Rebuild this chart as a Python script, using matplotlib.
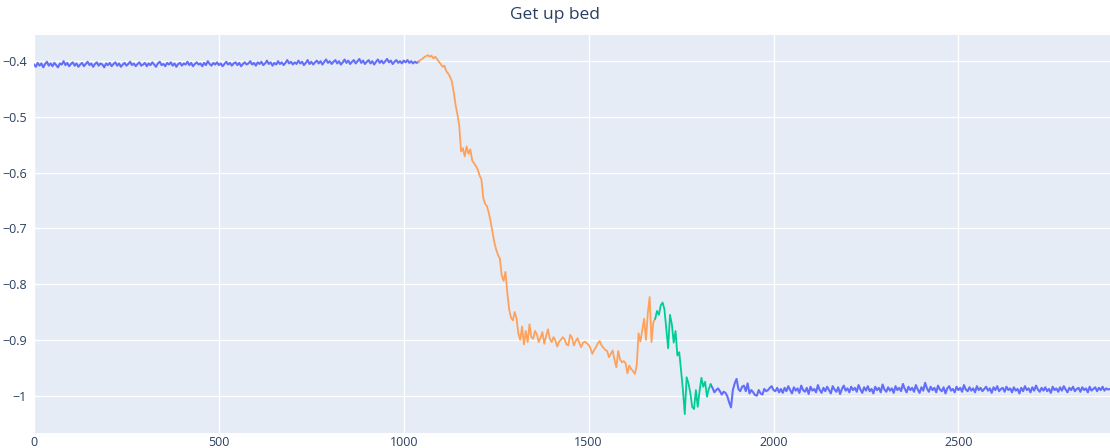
import numpy as np
import matplotlib.pyplot as plt
from matplotlib.ticker import FuncFormatter, MultipleLocator

plt.rcParams['font.family'] = ['Open Sans', 'DejaVu Sans']

title = "Get up bed"

# still lying, sampled every 5 frames from 0
lying_start = 0
lying_step = 5
lying = [
    -0.406, -0.410, -0.403, -0.408, -0.404, -0.411, -0.405, -0.401, -0.408, -0.404, -0.409, -0.403, -0.407, -0.411, -0.404, -0.406, -0.400, -0.407, -0.403, -0.409,
    -0.405, -0.402, -0.408, -0.404, -0.410, -0.406, -0.403, -0.409, -0.405, -0.401, -0.407, -0.404, -0.410, -0.405, -0.402, -0.408, -0.404, -0.406, -0.411, -0.404,
    -0.407, -0.403, -0.409, -0.405, -0.402, -0.408, -0.404, -0.410, -0.406, -0.403, -0.408, -0.405, -0.401, -0.407, -0.404, -0.409, -0.405, -0.402, -0.408, -0.406,
    -0.403, -0.409, -0.404, -0.407, -0.402, -0.406, -0.410, -0.404, -0.401, -0.407, -0.405, -0.409, -0.403, -0.406, -0.402, -0.408, -0.404, -0.410, -0.405, -0.403,
    -0.408, -0.404, -0.406, -0.401, -0.407, -0.403, -0.409, -0.405, -0.402, -0.406, -0.404, -0.409, -0.403, -0.407, -0.400, -0.405, -0.408, -0.403, -0.406, -0.402,
    -0.407, -0.404, -0.409, -0.405, -0.401, -0.406, -0.403, -0.408, -0.404, -0.402, -0.407, -0.403, -0.409, -0.405, -0.402, -0.406, -0.404, -0.400, -0.406, -0.403,
    -0.408, -0.402, -0.405, -0.401, -0.407, -0.404, -0.399, -0.405, -0.402, -0.408, -0.403, -0.406, -0.400, -0.405, -0.402, -0.407, -0.403, -0.398, -0.404, -0.401,
    -0.406, -0.402, -0.405, -0.399, -0.404, -0.401, -0.407, -0.403, -0.398, -0.405, -0.401, -0.406, -0.402, -0.399, -0.404, -0.400, -0.406, -0.401, -0.397, -0.403,
    -0.400, -0.405, -0.401, -0.398, -0.404, -0.400, -0.406, -0.402, -0.397, -0.403, -0.399, -0.405, -0.401, -0.398, -0.404, -0.400, -0.396, -0.403, -0.399, -0.405,
    -0.401, -0.398, -0.404, -0.400, -0.406, -0.401, -0.397, -0.403, -0.399, -0.404, -0.400, -0.396, -0.402, -0.399, -0.405, -0.401, -0.398, -0.403, -0.400, -0.404,
    -0.399, -0.402, -0.398, -0.403, -0.400, -0.404, -0.401, -0.403, -0.401,
]

# getting up, every 5 frames from 1040
rising_start = 1040
rising_step = 5
rising = [
    -0.401, -0.398, -0.396, -0.393, -0.391, -0.389, -0.392, -0.390, -0.395, -0.392,
    -0.396, -0.401, -0.405, -0.410, -0.408, -0.418, -0.422, -0.428, -0.436, -0.455,
    -0.478, -0.495, -0.515, -0.562, -0.556, -0.571, -0.553, -0.566, -0.558, -0.578,
    -0.583, -0.588, -0.594, -0.605, -0.612, -0.645, -0.656, -0.660, -0.672, -0.688,
    -0.706, -0.725, -0.738, -0.748, -0.754, -0.785, -0.794, -0.778, -0.815, -0.845,
    -0.860, -0.865, -0.850, -0.862, -0.889, -0.900, -0.876, -0.908, -0.884, -0.904,
    -0.872, -0.895, -0.898, -0.884, -0.890, -0.904, -0.896, -0.886, -0.907, -0.893,
    -0.881, -0.898, -0.904, -0.895, -0.901, -0.912, -0.903, -0.900, -0.895, -0.899,
    -0.908, -0.910, -0.891, -0.896, -0.910, -0.902, -0.897, -0.906, -0.913, -0.905,
    -0.903, -0.906, -0.909, -0.915, -0.925, -0.918, -0.913, -0.906, -0.902, -0.910,
    -0.914, -0.918, -0.920, -0.931, -0.925, -0.919, -0.936, -0.949, -0.920, -0.935,
    -0.940, -0.938, -0.942, -0.960, -0.946, -0.952, -0.956, -0.961, -0.946, -0.888,
    -0.903, -0.882, -0.862, -0.900, -0.852, -0.823, -0.904, -0.868, -0.862,
]

# standing transition, every 5 frames from 1680
standing_start = 1680
standing_step = 5
standing = [
    -0.862, -0.848, -0.855, -0.838, -0.833, -0.845, -0.880, -0.915, -0.855, -0.872,
    -0.905, -0.884, -0.928, -0.922, -0.955, -0.990, -1.033, -0.967, -0.978, -0.995,
    -1.020, -1.024, -0.990, -1.020, -0.992, -0.968, -0.984, -0.975, -1.002, -0.988,
    -0.980,
]

# upright again, every 5 frames from 1830
upright_start = 1830
upright_step = 5
upright = [
    -0.980, -0.986, -0.994, -0.990, -0.987, -0.992, -0.998, -0.993, -0.995, -1.001, -1.012, -1.021, -0.990, -0.978, -0.970, -0.988, -0.992, -0.984, -0.982, -0.992,
    -0.978, -0.996, -0.990, -0.994, -0.999, -1.000, -0.990, -0.996, -0.998, -0.988, -0.992, -0.990, -0.986, -0.983, -0.990, -0.992, -0.986, -0.994, -0.988, -0.995,
    -0.986, -0.992, -0.983, -0.990, -0.996, -0.985, -0.991, -0.987, -0.995, -0.982, -0.990, -0.993, -0.986, -0.997, -0.984, -0.991, -0.988, -0.994, -0.981, -0.990,
    -0.995, -0.986, -0.992, -0.984, -0.990, -0.996, -0.983, -0.989, -0.993, -0.985, -0.997, -0.988, -0.982, -0.991, -0.987, -0.994, -0.984, -0.990, -0.986, -0.993,
    -0.981, -0.989, -0.995, -0.985, -0.991, -0.983, -0.992, -0.988, -0.996, -0.984, -0.990, -0.986, -0.994, -0.980, -0.989, -0.993, -0.985, -0.991, -0.987, -0.995,
    -0.983, -0.990, -0.986, -0.992, -0.979, -0.988, -0.994, -0.984, -0.990, -0.986, -0.993, -0.981, -0.989, -0.995, -0.985, -0.991, -0.977, -0.987, -0.993, -0.984,
    -0.990, -0.986, -0.994, -0.982, -0.989, -0.992, -0.985, -0.996, -0.987, -0.983, -0.991, -0.988, -0.994, -0.984, -0.990, -0.986, -0.993, -0.981, -0.989, -0.992,
    -0.985, -0.991, -0.987, -0.994, -0.983, -0.990, -0.986, -0.992, -0.988, -0.984, -0.991, -0.987, -0.995, -0.985, -0.990, -0.983, -0.992, -0.988, -0.986, -0.993,
    -0.984, -0.990, -0.987, -0.994, -0.985, -0.991, -0.988, -0.996, -0.986, -0.992, -0.983, -0.990, -0.987, -0.994, -0.985, -0.991, -0.982, -0.989, -0.993, -0.986,
    -0.991, -0.985, -0.992, -0.988, -0.995, -0.984, -0.990, -0.987, -0.993, -0.985, -0.991, -0.983, -0.989, -0.994, -0.986, -0.990, -0.984, -0.992, -0.988, -0.986,
    -0.993, -0.985, -0.990, -0.987, -0.994, -0.984, -0.991, -0.988, -0.985, -0.992, -0.986, -0.990, -0.984, -0.991, -0.987, -0.989, -0.988,
]


def frames(start, step, ys):
    return start + step * np.arange(len(ys))


fig = plt.figure(figsize=(11.10, 4.48), dpi=100)
ax = fig.add_axes([34 / 1110, 1 - 433 / 448, 1 - 34 / 1110, 398 / 448])
ax.set_facecolor('#E5ECF6')

blue, orange, green = '#636EFA', '#FFA15A', '#00CC96'
ax.plot(frames(lying_start, lying_step, lying), lying, color=blue, lw=1.5)
ax.plot(frames(upright_start, upright_step, upright), upright, color=blue, lw=1.5)
ax.plot(frames(rising_start, rising_step, rising), rising, color=orange, lw=1.3)
ax.plot(frames(standing_start, standing_step, standing), standing, color=green, lw=1.3)

x_end = frames(upright_start, upright_step, upright)[-1]
ax.set_xlim(0, x_end)
ax.set_ylim(-1.067, -0.353)

ax.xaxis.set_major_locator(MultipleLocator(500))
ax.yaxis.set_major_locator(MultipleLocator(0.1))
ax.yaxis.set_major_formatter(FuncFormatter(lambda v, p: ('%g' % round(v, 3)).replace('-', '\u2212')))
ax.grid(True, color='white', lw=1)
ax.set_axisbelow(True)
for s in ax.spines.values():
    s.set_visible(False)
ax.tick_params(length=0, labelsize=9, colors='#2a3f5f')
ax.tick_params(axis='x', pad=2)
ax.tick_params(axis='y', pad=5)

fig.text(0.5, 1 - 15 / 448, title, ha='center', va='center', fontsize=12.5, color='#2a3f5f')

fig.savefig('out.png', dpi=100)
